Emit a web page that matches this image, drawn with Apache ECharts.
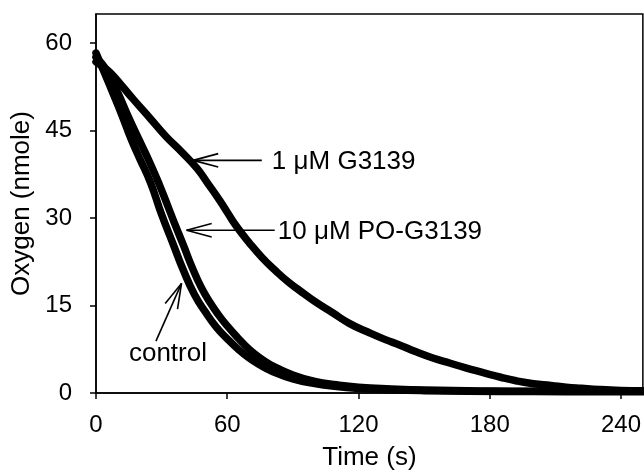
<!DOCTYPE html>
<html><head><meta charset="utf-8">
<script src="https://cdn.jsdelivr.net/npm/echarts@6/dist/echarts.min.js"></script>
<style>html,body{margin:0;padding:0;background:#fff}#c{width:644px;height:476px}</style>
</head><body><div id="c"></div>
<script>
// ---- data ----
const xTicks = [0, 60, 120, 180, 240];
const yTicks = [0, 15, 30, 45, 60];

const timeG3139 = [0,3,6.4,12,17,25,32,39,46,51,56.6,60,64.2,70,76,82,88,93,100,108,116,124,132,139,146,154,162,169,177,185,192,200,208,215,222,230,240,250];
const oxyG3139  = [56.8,56.0,55.0,52.6,50.4,47.0,44.0,41.4,38.6,36.0,33.0,31.0,28.6,25.8,23.2,21.0,19.0,17.6,15.7,13.8,11.9,10.5,9.2,8.2,7.1,6.0,5.1,4.3,3.5,2.7,2.1,1.6,1.3,1.0,0.8,0.6,0.45,0.4];

const timePO = [0,5,10,15,20,25,29,33,36,40,44,48,52,56,60,65,70,75,80,90,100,110,120,135,150,170,200,230,250];
const oxyPO  = [57.6,55.3,51.5,47.2,43.2,39.2,35.7,31.9,29.0,25.3,21.5,18.2,15.6,13.4,11.5,9.4,7.5,6.0,4.8,3.1,2.0,1.4,1.0,0.7,0.5,0.4,0.3,0.3,0.3];

const timeControl = [0,4,8,12,16,20,25,30,35,40,45,50,55,60,65,70,75,80,90,100,110,120,135,150,170,200,230,250];
const oxyControl  = [58.3,54.8,51.2,47.5,43.6,40.2,36.0,30.6,25.8,21.0,16.9,13.9,11.3,9.3,7.5,6.0,4.8,3.8,2.4,1.6,1.1,0.8,0.55,0.4,0.3,0.25,0.2,0.2];

const seriesNames = ['1 μM G3139', '10 μM PO-G3139', 'control'];

// annotation anchors (data coordinates)
const annotations = [
  {text: '1 μM G3139',      tip: [44.4, 39.9], tail: [75.8, 39.9], label: [80.4, 39.7], align: 'left'},
  {text: '10 μM PO-G3139',  tip: [41.4, 27.9], tail: [81.7, 27.9], label: [83.1, 27.7], align: 'left'},
  {text: 'control',         tip: [39.1, 18.8], tail: [27.4, 8.9],  label: [32.9, 6.7],  align: 'center'}
];

const zip = (a, b) => a.map((t, i) => [t, b[i]]);
const FONT = '"Liberation Sans", Arial, Helvetica, sans-serif';

const chart = echarts.init(document.getElementById('c'), null, {renderer: 'canvas'});
const lineSeries = (name, data) => ({
  name, type: 'line', data, showSymbol: false, smooth: 0.5,
  lineStyle: {color: '#000', width: 7.5, join: 'round', cap: 'round'}, itemStyle: {color: '#000'}, z: 3
});

chart.setOption({
  animation: false,
  backgroundColor: '#fff',
  grid: {left: 96, right: 1, top: 14, bottom: 81, show: true, borderColor: '#000', borderWidth: 1.5},
  xAxis: {
    type: 'value', min: 0, max: 250, interval: 60,
    name: 'Time (s)', nameLocation: 'middle', nameGap: 52,
    nameTextStyle: {fontFamily: FONT, fontSize: 26, color: '#000'},
    axisLine: {lineStyle: {color: '#000', width: 1.5}},
    axisTick: {inside: false, length: 6, lineStyle: {color: '#000', width: 1.5}, customValues: xTicks},
    axisLabel: {fontFamily: FONT, fontSize: 24, color: '#000', margin: 20, customValues: xTicks},
    splitLine: {show: false}
  },
  yAxis: {
    type: 'value', min: 0, max: 65, interval: 15,
    name: 'Oxygen (nmole)', nameLocation: 'middle', nameGap: 60, nameRotate: 90,
    nameTextStyle: {fontFamily: FONT, fontSize: 26, color: '#000'},
    axisLine: {lineStyle: {color: '#000', width: 1.5}},
    axisTick: {inside: false, length: 6, lineStyle: {color: '#000', width: 1.5}, customValues: yTicks},
    axisLabel: {fontFamily: FONT, fontSize: 24, color: '#000', margin: 24, customValues: yTicks},
    splitLine: {show: false}
  },
  series: [
    lineSeries(seriesNames[0], zip(timeG3139, oxyG3139)),
    lineSeries(seriesNames[1], zip(timePO, oxyPO)),
    lineSeries(seriesNames[2], zip(timeControl, oxyControl))
  ]
});

// annotations: arrows + labels placed through the chart's own coordinate system
function drawAnnotations() {
  const els = [];
  const L = 26, ang = 15 * Math.PI / 180;
  annotations.forEach(a => {
    const tip = chart.convertToPixel({gridIndex: 0}, a.tip);
    const tail = chart.convertToPixel({gridIndex: 0}, a.tail);
    const lab = chart.convertToPixel({gridIndex: 0}, a.label);
    const dx = tail[0] - tip[0], dy = tail[1] - tip[1];
    const len = Math.hypot(dx, dy), ux = dx / len, uy = dy / len;
    const stroke = {stroke: '#000', lineWidth: 1.6};
    els.push({type: 'line', shape: {x1: tail[0], y1: tail[1], x2: tip[0], y2: tip[1]}, style: stroke, z: 10});
    [ang, -ang].forEach(t => {
      const bx = ux * Math.cos(t) - uy * Math.sin(t);
      const by = ux * Math.sin(t) + uy * Math.cos(t);
      els.push({type: 'line', shape: {x1: tip[0], y1: tip[1], x2: tip[0] + bx * L, y2: tip[1] + by * L}, style: stroke, z: 10});
    });
    els.push({type: 'text', x: lab[0], y: lab[1], z: 10,
      style: {text: a.text, fill: '#000', font: '26px ' + FONT, textAlign: a.align, textVerticalAlign: 'middle'}});
  });
  chart.setOption({graphic: els});
}
drawAnnotations();
</script>
</body></html>
